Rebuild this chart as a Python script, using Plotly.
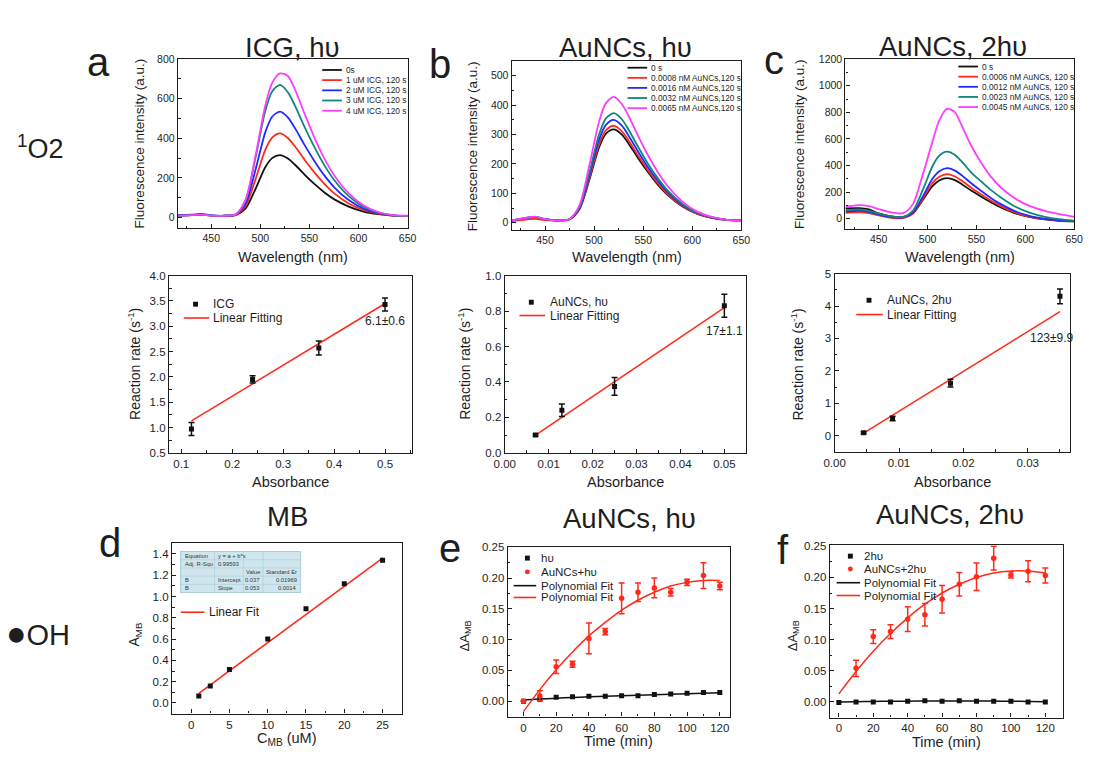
import plotly.graph_objects as go
from plotly.subplots import make_subplots

W, H = 1093, 757
FONT = "Liberation Sans, Arial, sans-serif"
INK = "#1e1e1e"

# ---------------- DATA ----------------
wavelength = [416, 430, 440, 450, 465, 475, 485, 495, 505, 512, 520, 528, 535, 545, 555, 565, 575, 590, 605, 620, 635, 650]

a_labels = ["0s", "1 uM ICG, 120 s", "2 uM ICG, 120 s", "3 uM ICG, 120 s", "4 uM ICG, 120 s"]
a_0s = [10, 12, 15, 10, 9, 12, 46, 144, 254, 300, 315, 298, 268, 217, 170, 128, 93, 55, 30, 17, 10, 8]
a_1uM = [10, 12, 15, 10, 9, 13, 59, 192, 342, 404, 425, 402, 361, 292, 228, 171, 123, 71, 38, 20, 10, 8]
a_2uM = [12, 14, 18, 11, 9, 14, 72, 240, 430, 509, 535, 506, 454, 367, 286, 214, 154, 88, 45, 23, 11, 8]
a_3uM = [10, 12, 15, 10, 9, 16, 88, 300, 538, 637, 670, 633, 568, 458, 357, 266, 191, 108, 55, 26, 11, 8]
a_4uM = [10, 12, 15, 10, 9, 16, 90, 310, 565, 680, 728, 715, 650, 525, 405, 300, 215, 122, 62, 28, 12, 9]

b_labels = ["0 s", "0.0008 nM AuNCs,120 s", "0.0016 nM AuNCs,120 s", "0.0032 nM AuNCs,120 s", "0.0065 nM AuNCs,120 s"]
b_0s = [8, 15, 18, 12, 8, 12, 46, 145, 256, 303, 318, 301, 270, 219, 172, 129, 94, 55, 30, 17, 10, 8]
b_1 = [6, 11, 13, 9, 7, 12, 48, 150, 266, 314, 330, 312, 281, 227, 178, 134, 97, 57, 31, 17, 10, 8]
b_2 = [8, 16, 20, 12, 8, 12, 50, 159, 282, 333, 350, 331, 297, 241, 188, 142, 103, 60, 33, 18, 10, 8]
b_3 = [8, 16, 20, 12, 8, 13, 53, 169, 300, 355, 373, 353, 317, 257, 200, 151, 109, 64, 34, 18, 10, 8]
b_4 = [8, 16, 21, 12, 8, 13, 59, 193, 344, 407, 428, 405, 364, 294, 229, 172, 124, 72, 38, 20, 10, 8]

c_labels = ["0 s", "0.0006 nM AuNCs, 120 s", "0.0012 nM AuNCs, 120 s", "0.0023 nM AuNCs, 120 s", "0.0045 nM AuNCs, 120 s"]
c_0s = [78, 80, 70, 40, 15, 12, 40, 140, 245, 288, 305, 290, 260, 210, 165, 122, 85, 40, 12, -5, -15, -20]
c_1 = [45, 48, 42, 25, 5, 5, 40, 148, 268, 316, 335, 318, 286, 232, 182, 135, 95, 45, 15, -3, -14, -20]
c_2 = [55, 60, 52, 32, 10, 10, 45, 165, 300, 357, 380, 362, 326, 265, 208, 155, 110, 55, 20, 0, -12, -18]
c_3 = [65, 70, 60, 38, 15, 15, 60, 215, 395, 475, 505, 480, 430, 345, 280, 215, 160, 90, 45, 15, -3, -15]
c_4 = [90, 102, 95, 72, 45, 42, 110, 330, 580, 740, 828, 800, 700, 545, 420, 315, 235, 150, 95, 60, 35, 15]

# reaction rate vs absorbance
icg_abs = [0.12, 0.24, 0.37, 0.50]
icg_rate = [0.97, 1.95, 2.57, 3.43]
icg_err = [0.13, 0.07, 0.14, 0.13]
icg_fit_x = [0.12, 0.50]
icg_fit_y = [1.13, 3.45]

au1_abs = [0.007, 0.013, 0.025, 0.050]
au1_rate = [0.10, 0.24, 0.375, 0.83]
au1_err = [0.006, 0.035, 0.05, 0.065]
au1_fit_x = [0.007, 0.050]
au1_fit_y = [0.10, 0.82]

au2_abs = [0.0045, 0.009, 0.018, 0.035]
au2_rate = [0.09, 0.53, 1.62, 4.30]
au2_err = [0.03, 0.07, 0.12, 0.23]
au2_fit_x = [0.0045, 0.035]
au2_fit_y = [0.08, 3.83]

# MB calibration
mb_conc = [1, 2.5, 5, 10, 15, 20, 25]
mb_abs = [0.065, 0.16, 0.315, 0.60, 0.885, 1.12, 1.34]
mb_fit_x = [1, 25]
mb_fit_y = [0.09, 1.362]
mb_table = [["Equation", "y = a + b*x", "", ""],
            ["Adj. R-Squ", "0.99593", "", ""],
            ["", "", "Value", "Standard Er"],
            ["B", "Intercept", "0.037", "0.01969"],
            ["B", "Slope", "0.053", "0.0014"]]

# Delta A_MB vs time
time_min = [0, 10, 20, 30, 40, 50, 60, 70, 80, 90, 100, 110, 120]
e_hv = [0.000, 0.003, 0.0064, 0.007, 0.008, 0.008, 0.009, 0.009, 0.0107, 0.0118, 0.0128, 0.0139, 0.0139]
e_hv_fit = [0.0020, 0.0035, 0.0048, 0.0060, 0.0071, 0.0081, 0.0090, 0.0098, 0.0106, 0.0114, 0.0121, 0.0128, 0.0135]
e_au = [0.000, 0.009, 0.056, 0.060, 0.102, 0.113, 0.167, 0.177, 0.184, 0.177, 0.193, 0.204, 0.187]
e_au_err = [0.0, 0.008, 0.011, 0.005, 0.025, 0.005, 0.025, 0.015, 0.016, 0.006, 0.005, 0.021, 0.006]
e_au_fit = [-0.017, 0.0187, 0.051, 0.080, 0.106, 0.128, 0.148, 0.164, 0.177, 0.187, 0.193, 0.196, 0.196]

f_hv = [-0.001, 0.000, 0.000, 0.000, 0.001, 0.002, 0.001, 0.002, 0.001, 0.001, 0.001, 0.000, 0.000]
f_hv_fit = [0.0000, 0.0004, 0.0008, 0.0011, 0.0013, 0.0015, 0.0016, 0.0016, 0.0016, 0.0014, 0.0012, 0.0009, 0.0005]
f_time_au = [10, 20, 30, 40, 50, 60, 70, 80, 90, 100, 110, 120]
f_au = [0.054, 0.105, 0.113, 0.133, 0.140, 0.165, 0.189, 0.201, 0.231, 0.204, 0.210, 0.203]
f_au_err = [0.013, 0.011, 0.011, 0.020, 0.018, 0.022, 0.019, 0.022, 0.019, 0.005, 0.017, 0.012]
f_au_fit = [0.013, 0.049, 0.0815, 0.110, 0.135, 0.157, 0.175, 0.189, 0.200, 0.207, 0.2105, 0.2105, 0.207]

# ---------------- STYLE ----------------
C_BLACK = "#111111"
C_RED = "#ff2a1a"
C_BLUE = "#1f2bff"
C_TEAL = "#11867a"
C_MAG = "#ff3cff"
spec_colors = [C_BLACK, C_RED, C_BLUE, C_TEAL, C_MAG]


def px(x):
    return x / W


def py(y):
    return 1 - y / H


fig = make_subplots(rows=3, cols=3)

# panel frames in pixels: (left, right, top, bottom)
frames = {
    1: (170, 404, 54, 226), 2: (510, 744, 56, 228), 3: (850, 1083, 54, 227),
    4: (161, 408, 274, 454), 5: (503, 749, 274, 454), 6: (839, 1079, 272, 453),
    7: (164, 398, 546, 719), 8: (506, 732, 550, 722), 9: (834, 1072, 548, 723),
}


def axname(n, k):
    return f"{k}axis" if n == 1 else f"{k}axis{n}"


def style_axis(n, k, rng, dtick, minor_dtick, fsize, fmt=None):
    l, r, t, b = frames[n]
    d = dict(
        range=rng, dtick=dtick, tick0=0, showline=True, linecolor=INK, linewidth=1.3,
        mirror=True, ticks="inside", ticklen=4, tickwidth=1.1, tickcolor=INK,
        showgrid=False, zeroline=False,
        tickfont=dict(family=FONT, size=fsize, color=INK),
        minor=dict(ticks="inside", ticklen=2.5, tickwidth=1, tickcolor=INK, dtick=minor_dtick, tick0=0),
    )
    if fmt:
        d["tickformat"] = fmt
    if k == "x":
        d["domain"] = [px(l), px(r)]
    else:
        d["domain"] = [py(b), py(t)]
    fig.update_layout({axname(n, k): d})


# ---- top row: spectra ----
spec_sets = [
    (1, [a_0s, a_1uM, a_2uM, a_3uM, a_4uM]),
    (2, [b_0s, b_1, b_2, b_3, b_4]),
    (3, [c_0s, c_1, c_2, c_3, c_4]),
]
for col, series in spec_sets:
    for s, colr in zip(series, spec_colors):
        fig.add_trace(go.Scatter(x=wavelength, y=s, mode="lines",
                                 line=dict(color=colr, width=1.8, shape="spline", smoothing=0.8),
                                 showlegend=False), row=1, col=col)

style_axis(1, "x", [416, 650], 50, 25, 10.5)
style_axis(1, "y", [-55, 800], 200, 100, 10.5)
style_axis(2, "x", [416, 650], 50, 25, 10.5)
style_axis(2, "y", [-26, 550], 100, 50, 10.5)
style_axis(3, "x", [416, 650], 50, 25, 10.5)
style_axis(3, "y", [-80, 1200], 200, 100, 10.5)

# ---- middle row: rates ----
rate_sets = [
    (1, icg_abs, icg_rate, icg_err, icg_fit_x, icg_fit_y),
    (2, au1_abs, au1_rate, au1_err, au1_fit_x, au1_fit_y),
    (3, au2_abs, au2_rate, au2_err, au2_fit_x, au2_fit_y),
]
for col, xs, ys, es, fx, fy in rate_sets:
    fig.add_trace(go.Scatter(x=fx, y=fy, mode="lines", line=dict(color=C_RED, width=1.5),
                             showlegend=False), row=2, col=col)
    fig.add_trace(go.Scatter(x=xs, y=ys, mode="markers",
                             marker=dict(symbol="square", size=5, color=C_BLACK),
                             error_y=dict(type="data", array=es, color=C_BLACK, thickness=1.5, width=3),
                             showlegend=False), row=2, col=col)

style_axis(4, "x", [0.076, 0.552], 0.1, 0.05, 11.5, ".1f")
style_axis(4, "y", [0.5, 4.0], 0.5, 0.25, 11.5, ".1f")
style_axis(5, "x", [0, 0.055], 0.01, 0.005, 11.5, ".2f")
style_axis(5, "y", [0, 1.0], 0.2, 0.1, 11.5, ".1f")
style_axis(6, "x", [0, 0.0366], 0.01, 0.005, 11.5, ".2f")
style_axis(6, "y", [-0.5, 5], 1, 0.5, 11.5)

# ---- bottom row ----
fig.add_trace(go.Scatter(x=mb_fit_x, y=mb_fit_y, mode="lines", line=dict(color=C_RED, width=1.5),
                         showlegend=False), row=3, col=1)
fig.add_trace(go.Scatter(x=mb_conc, y=mb_abs, mode="markers",
                         marker=dict(symbol="square", size=5, color=C_BLACK), showlegend=False), row=3, col=1)

for col, hv, hvfit, tau, au, auerr, aufit in [
    (2, e_hv, e_hv_fit, time_min, e_au, e_au_err, e_au_fit),
    (3, f_hv, f_hv_fit, f_time_au, f_au, f_au_err, f_au_fit),
]:
    fig.add_trace(go.Scatter(x=time_min, y=hvfit, mode="lines",
                             line=dict(color=C_BLACK, width=1.5, shape="spline"), showlegend=False), row=3, col=col)
    fig.add_trace(go.Scatter(x=time_min, y=aufit, mode="lines",
                             line=dict(color=C_RED, width=1.5, shape="spline"), showlegend=False), row=3, col=col)
    fig.add_trace(go.Scatter(x=time_min, y=hv, mode="markers",
                             marker=dict(symbol="square", size=5, color=C_BLACK), showlegend=False), row=3, col=col)
    fig.add_trace(go.Scatter(x=tau, y=au, mode="markers",
                             marker=dict(symbol="circle", size=5.5, color=C_RED),
                             error_y=dict(type="data", array=auerr, color=C_RED, thickness=1.5, width=3),
                             showlegend=False), row=3, col=col)

style_axis(7, "x", [-2.5, 27.5], 5, 2.5, 11.5)
style_axis(7, "y", [-0.1, 1.5], 0.2, 0.1, 11.5, ".1f")
style_axis(8, "x", [-9.6, 126], 20, 10, 11.5)
style_axis(8, "y", [-0.025, 0.25], 0.05, 0.025, 11.5, ".2f")
style_axis(9, "x", [-5.3, 130.5], 20, 10, 11.5)
style_axis(9, "y", [-0.025, 0.2516], 0.05, 0.025, 11.5, ".2f")

# ---------------- annotations & shapes ----------------
ann = []
shapes = []


def text(x, y, s, size, xanchor="center", yanchor="middle", angle=0, color=INK):
    ann.append(dict(x=px(x), y=py(y), xref="paper", yref="paper", text=s, showarrow=False,
                    xanchor=xanchor, yanchor=yanchor, textangle=angle,
                    font=dict(family=FONT, size=size, color=color)))


def hline(x0, x1, y, color, width=1.8):
    shapes.append(dict(type="line", xref="paper", yref="paper", x0=px(x0), x1=px(x1),
                       y0=py(y), y1=py(y), line=dict(color=color, width=width)))


def square(x, y, s, color):
    shapes.append(dict(type="rect", xref="paper", yref="paper", x0=px(x - s / 2), x1=px(x + s / 2),
                       y0=py(y + s / 2), y1=py(y - s / 2), fillcolor=color, line=dict(width=0)))


def circle(x, y, s, color):
    shapes.append(dict(type="circle", xref="paper", yref="paper", x0=px(x - s / 2), x1=px(x + s / 2),
                       y0=py(y + s / 2), y1=py(y - s / 2), fillcolor=color, line=dict(width=0)))


# row labels
text(30, 143, "<sup>1</sup>O2", 27)
text(28, 637, "<span style='font-size:34px'>●</span>OH", 29)

# panel letters
for lx, ly, s in [(89, 57, "a"), (437, 59, "b"), (777, 55, "c"),
                  (101, 546, "d"), (447, 551, "e"), (786, 553, "f")]:
    text(lx, ly, s, 40)

# panel titles
for tx, ty, s in [(287, 42, "ICG, hυ"), (626, 42, "AuNCs, hυ"), (960, 41, "AuNCs, 2hυ"),
                  (282, 519, "MB"), (630, 521, "AuNCs, hυ"), (957, 517, "AuNCs, 2hυ")]:
    text(tx, ty, s, 27.5)

# axis titles
for n in (1, 2, 3):
    l, r, t, b = frames[n]
    text((l + r) / 2, 255, "Wavelength (nm)", 14.5)
text(131, 140, "Fluorescence intensity (a.u.)", 13.5, angle=-90)
text(470, 142, "Fluorescence intensity (a.u.)", 13.5, angle=-90)
text(803, 140, "Fluorescence intensity (a.u.)", 13.5, angle=-90)

for n in (4, 5, 6):
    l, r, t, b = frames[n]
    text((l + r) / 2, 484, "Absorbance", 14.5)
text(126, 364, "Reaction rate (s<sup>-1</sup>)", 14, angle=-90)
text(462, 364, "Reaction rate (s<sup>-1</sup>)", 14, angle=-90)
text(801, 364, "Reaction rate (s<sup>-1</sup>)", 14, angle=-90)

text(281, 745, "C<sub>MB</sub> (uM)", 14.5)
text(126, 638, "A<sub>MB</sub>", 14, angle=-90)
text(619, 747, "Time (min)", 14.5)
text(463, 640, "ΔA<sub>MB</sub>", 13, angle=-90)
text(953, 748, "Time (min)", 14.5)
text(797, 640, "ΔA<sub>MB</sub>", 13, angle=-90)

# top-row legends
leg_top = [
    (317, 337, 339, [65, 75.3, 85.7, 96, 106.4], a_labels),
    (628, 648, 650, [62.7, 73, 83.2, 93.5, 103.8], b_labels),
    (965, 985, 987, [61.5, 71.8, 82.1, 92.4, 102.7], c_labels),
]
for x0, x1, xt, ys, labs in leg_top:
    for yy, lab, colr in zip(ys, labs, spec_colors):
        hline(x0, x1, yy, colr, 1.8)
        text(xt, yy, lab, 8.3, xanchor="left")

# middle-row legends
for (sx, sy, tx1, lx0, lx1, ly, lab) in [
    (188, 303, 204, 176, 202, 317, "ICG"),
    (530, 301, 547, 518, 544, 314.5, "AuNCs, hυ"),
    (874, 299, 890, 861, 888, 313.5, "AuNCs, 2hυ"),
]:
    square(sx, sy, 5, C_BLACK)
    text(tx1, sy, lab, 12, xanchor="left")
    hline(lx0, lx1, ly, C_RED, 1.6)
    text(tx1, ly, "Linear Fitting", 12, xanchor="left")

# rate values
ann.append(dict(x=0.50, y=3.10, xref="x4", yref="y4", text="6.1±0.6", showarrow=False,
                font=dict(family=FONT, size=12, color=INK)))
ann.append(dict(x=0.050, y=0.69, xref="x5", yref="y5", text="17±1.1", showarrow=False,
                font=dict(family=FONT, size=12, color=INK)))
ann.append(dict(x=0.0337, y=3.0, xref="x6", yref="y6", text="123±9.9", showarrow=False,
                font=dict(family=FONT, size=12, color=INK)))

# d legend
hline(173, 197, 616, C_RED, 1.6)
text(200, 616, "Linear Fit", 12, xanchor="left")

# d table
cols_px = [172.7, 207.3, 236.7, 256.7, 295]
rows_px = [554.3, 562.7, 571, 579.3, 587.7, 596]
shapes.append(dict(type="rect", xref="paper", yref="paper", x0=px(cols_px[0]), x1=px(cols_px[-1]),
                   y0=py(rows_px[-1]), y1=py(rows_px[0]), fillcolor="#cfe6ee",
                   line=dict(color="#9cc3cf", width=0.8)))
for cx in cols_px[1:-1]:
    shapes.append(dict(type="line", xref="paper", yref="paper", x0=px(cx), x1=px(cx),
                       y0=py(rows_px[-1]), y1=py(rows_px[0]), line=dict(color="#a8cbd6", width=0.6)))
for ry in rows_px[1:-1]:
    shapes.append(dict(type="line", xref="paper", yref="paper", x0=px(cols_px[0]), x1=px(cols_px[-1]),
                       y0=py(ry), y1=py(ry), line=dict(color="#a8cbd6", width=0.6)))
for i, row in enumerate(mb_table):
    yc = (rows_px[i] + rows_px[i + 1]) / 2
    for j, cell in enumerate(row):
        if not cell:
            continue
        if j < 2:
            text(cols_px[j] + 2, yc, cell, 5.8, xanchor="left", color="#333")
        else:
            text(cols_px[j + 1] - 1.5, yc, cell, 5.8, xanchor="right", color="#333")

# e legend
square(526, 561, 5, C_BLACK)
text(538, 561, "hυ", 11.5, xanchor="left")
circle(526, 575, 5, C_RED)
text(538, 575, "AuNCs+hυ", 11.5, xanchor="left")
hline(512, 535, 589, C_BLACK, 1.6)
text(538, 589, "Polynomial Fit", 11.5, xanchor="left")
hline(512, 535, 601, C_RED, 1.6)
text(538, 601, "Polynomial Fit", 11.5, xanchor="left")

# f legend
square(855, 559, 5, C_BLACK)
text(867, 559, "2hυ", 11.5, xanchor="left")
circle(855, 572, 5, C_RED)
text(867, 572, "AuNCs+2hυ", 11.5, xanchor="left")
hline(841, 865, 586, C_BLACK, 1.6)
text(867, 586, "Polynomial Fit", 11.5, xanchor="left")
hline(841, 865, 599, C_RED, 1.6)
text(867, 599, "Polynomial Fit", 11.5, xanchor="left")

fig.update_layout(
    width=W, height=H, autosize=False,
    margin=dict(l=0, r=0, t=0, b=0),
    paper_bgcolor="white", plot_bgcolor="white",
    showlegend=False,
    annotations=ann, shapes=shapes,
    font=dict(family=FONT, color=INK),
)

fig.write_html("out.html", config={"displayModeBar": False},
               post_script="document.body.style.margin='0';document.body.style.overflow='hidden';")
